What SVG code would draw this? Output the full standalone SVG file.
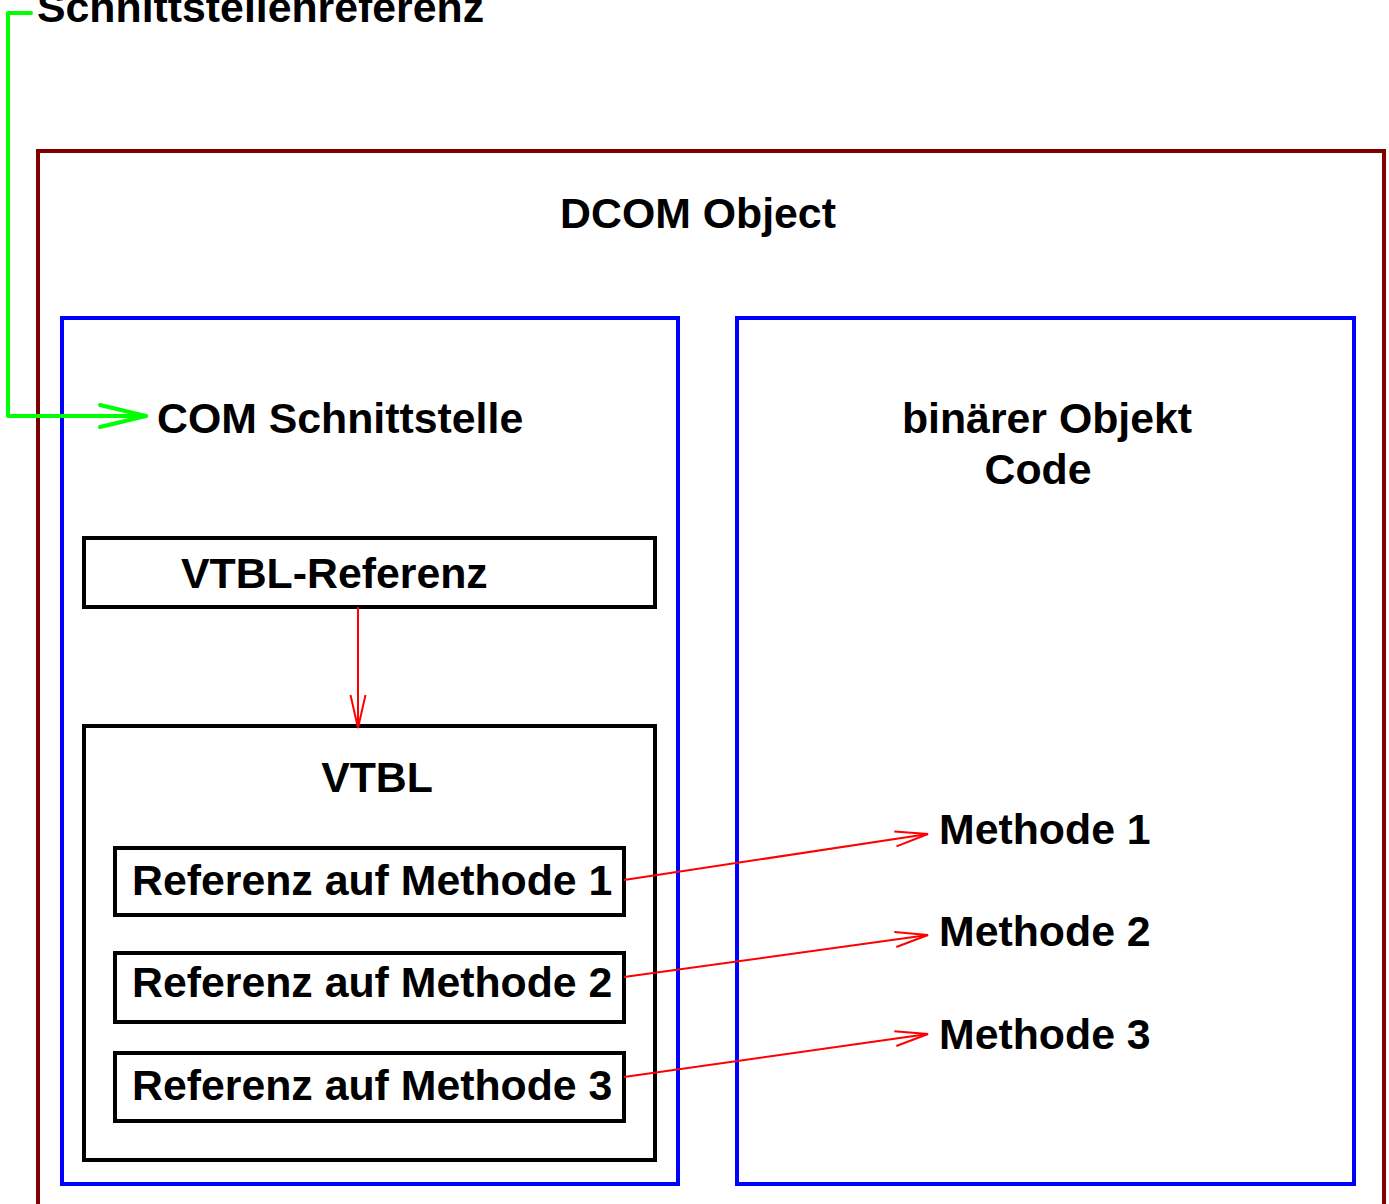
<svg xmlns="http://www.w3.org/2000/svg" width="1389" height="1204" viewBox="0 0 1389 1204">
  <style>
    text { font-family: "Liberation Sans", Arial, sans-serif; font-weight: bold; font-size: 42.8px; fill: #000; }
    .outer { fill: none; stroke: #800000; stroke-width: 4; }
    .blue { fill: none; stroke: #0000ff; stroke-width: 4; }
    .black { fill: none; stroke: #000; stroke-width: 4; }
    .red { fill: none; stroke: #ff0000; stroke-width: 2; }
    .green { fill: none; stroke: #00ff00; stroke-width: 4; }
  </style>
  <defs>
    <marker id="redArrow" markerUnits="userSpaceOnUse" orient="auto" refX="0" refY="0" markerWidth="40" markerHeight="20" overflow="visible">
      <path d="M-33,-7.5 L0,0 L-33,7.5" fill="none" stroke="#ff0000" stroke-width="2"/>
    </marker>
    <marker id="greenArrow" markerUnits="userSpaceOnUse" orient="auto" refX="0" refY="0" markerWidth="50" markerHeight="30" overflow="visible">
      <path d="M-46,-11 L0,0 L-46,11" fill="none" stroke="#00ff00" stroke-width="4" stroke-linecap="round" stroke-linejoin="round"/>
    </marker>
  </defs>

  <g id="dcom-object">
    <path class="outer" d="M38,1210 L38,151 L1384,151 L1384,1210"/>
    <text x="698" y="228" text-anchor="middle">DCOM Object</text>
  </g>

  <g id="com-interface">
    <rect class="blue" x="62" y="318" width="616" height="866"/>
    <text x="157" y="433">COM Schnittstelle</text>
  </g>

  <g id="binary-code">
    <rect class="blue" x="737" y="318" width="617" height="866"/>
    <text x="1047" y="433" text-anchor="middle">binärer Objekt</text>
    <text x="1038" y="484" text-anchor="middle">Code</text>
  </g>

  <g id="vtbl-reference">
    <rect class="black" x="84" y="538" width="571" height="69"/>
    <text x="181" y="588">VTBL-Referenz</text>
  </g>

  <g id="vtbl">
    <rect class="black" x="84" y="726" width="571" height="434"/>
    <text x="377" y="792" text-anchor="middle">VTBL</text>
  </g>

  <g id="ref-method-1">
    <rect class="black" x="115" y="848" width="509" height="67"/>
    <text x="132" y="895">Referenz auf Methode 1</text>
  </g>
  <g id="ref-method-2">
    <rect class="black" x="115" y="953" width="509" height="69"/>
    <text x="132" y="997">Referenz auf Methode 2</text>
  </g>
  <g id="ref-method-3">
    <rect class="black" x="115" y="1053" width="509" height="68"/>
    <text x="132" y="1100">Referenz auf Methode 3</text>
  </g>

  <g id="method-1"><text x="939" y="844">Methode 1</text></g>
  <g id="method-2"><text x="939" y="946">Methode 2</text></g>
  <g id="method-3"><text x="939" y="1049">Methode 3</text></g>

  <g id="interface-reference">
    <text x="37" y="22">Schnittstellenreferenz</text>
  </g>

  <g id="connectors">
    <path class="green" d="M31,13 L8,13 L8,416 L146,416" stroke-linejoin="round" stroke-linecap="round" marker-end="url(#greenArrow)"/>
    <path class="red" d="M358,607 L358,728" marker-end="url(#redArrow)"/>
    <path class="red" d="M624,880 L928,834" marker-end="url(#redArrow)"/>
    <path class="red" d="M624,977 L928,935" marker-end="url(#redArrow)"/>
    <path class="red" d="M624,1077 L928,1034" marker-end="url(#redArrow)"/>
  </g>
</svg>
